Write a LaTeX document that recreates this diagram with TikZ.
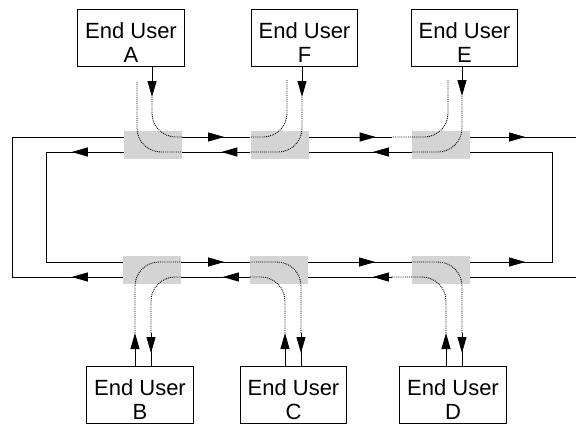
\documentclass[tikz,border=0pt]{standalone}
\usepackage{fontspec}
\setmainfont{Liberation Sans}
\usepackage{tikz}
\usetikzlibrary{arrows.meta, positioning, calc, decorations.markings}

\newcommand{\userlabel}[1]{\rule{0pt}{26pt}End User\\#1}

\begin{document}
\begin{tikzpicture}[
    x=1pt, y=-1pt,
    user/.style = {rectangle, draw, line width=0.8pt, minimum width=106.5pt, minimum height=57pt, inner sep=0pt, align=center, font=\fontsize{22}{24.5}\selectfont},
    switch/.style = {rectangle, fill=black!17, minimum width=58pt, minimum height=28pt, inner sep=0pt},
    fiber/.style = {line width=0.9pt},
    light/.style = {line width=0.9pt, densely dotted, rounded corners=24pt},
    feed/.style = {line width=0.9pt, -{Triangle[length=16pt, width=9pt]}},
    flow/.style = {postaction={decorate}, decoration={markings, mark=at position #1pt with {\arrow{Triangle[length=16pt, width=9pt]}}}}
]
    \useasboundingbox (0,0) rectangle (576,424);

    % End users
    \node (userA) [user] at (131,37.5) {\userlabel{A}};
    \node (userF) [user] at (304.5,37.5) {\userlabel{F}};
    \node (userE) [user] at (464.5,37.5) {\userlabel{E}};
    \node (userB) [user] at (140,394.5) {\userlabel{B}};
    \node (userC) [user] at (293.5,394.5) {\userlabel{C}};
    \node (userD) [user] at (453,394.5) {\userlabel{D}};

    % Switches
    \node (swA) [switch] at (153,144.5) {};
    \node (swF) [switch] at (279.5,144.5) {};
    \node (swE) [switch] at (441,144.5) {};
    \node (swB) [switch] at (152,269.5) {};
    \node (swC) [switch] at (279,269.5) {};
    \node (swD) [switch] at (441,269.5) {};

    % Ring levels and ports
    \coordinate (oT) at (0,137);
    \coordinate (iT) at (0,152);
    \coordinate (iB) at (0,262);
    \coordinate (oB) at (0,277);
    \coordinate (oL) at (12,0);
    \coordinate (iL) at (46,0);
    \coordinate (iR) at (552,0);
    \coordinate (rim) at (576,0);
    \coordinate (txA) at (152,97);
    \coordinate (rxA) at (137,82);
    \coordinate (txF) at (302,97);
    \coordinate (rxF) at (287,80);
    \coordinate (txE) at (462,96);
    \coordinate (rxE) at (448,80);
    \coordinate (txB) at (135,333);
    \coordinate (rxB) at (151,333);
    \coordinate (txC) at (285,333);
    \coordinate (rxC) at (301,333);
    \coordinate (txD) at (446,333);
    \coordinate (rxD) at (462,333);

    % Outer ring
    \draw [fiber, flow=51] (swB.west |- oB) -- (oL |- oB) -- (oL |- oT) -- (swA.west |- oT);
    \draw [fiber, flow=42] (swA.east |- oT) -- (swF.west |- oT);
    \draw [fiber, flow=67] (swF.east |- oT) -- ($(swE.west |- oT)+(-20,0)$);
    \draw [fiber, flow=55] (swE.east |- oT) -- (rim |- oT);
    \draw [fiber] (rim |- oB) -- (swD.east |- oB);
    \draw [fiber, flow=19] ($(swD.west |- oB)+(-20,0)$) -- (swC.east |- oB);
    \draw [fiber, flow=27] (swC.west |- oB) -- (swB.east |- oB);

    % Inner ring
    \draw [fiber, flow=52] (swA.west |- iT) -- (iL |- iT) -- (iL |- iB) -- (swB.west |- iB);
    \draw [fiber, flow=43] (swB.east |- iB) -- (swC.west |- iB);
    \draw [fiber, flow=67] (swC.east |- iB) -- (swD.west |- iB);
    \draw [fiber, flow=55] (swD.east |- iB) -- (iR |- iB) -- (iR |- iT) -- (swE.east |- iT);
    \draw [fiber, flow=39] (swE.west |- iT) -- (swF.east |- iT);
    \draw [fiber, flow=29] (swF.west |- iT) -- (swA.east |- iT);

    % Access links
    \draw [feed] (userA.south -| txA) -- (txA);
    \draw [feed] (userF.south -| txF) -- (txF);
    \draw [feed] (userE.south -| txE) -- (txE);
    \draw [feed] (userB.north -| txB) -- (txB);
    \draw [feed] (userC.north -| txC) -- (txC);
    \draw [feed] (userD.north -| txD) -- (txD);
    \draw [fiber, flow=20] (rxB) -- (userB.north -| rxB);
    \draw [fiber, flow=20] (rxC) -- (userC.north -| rxC);
    \draw [fiber, flow=20] (rxD) -- (userD.north -| rxD);

    % Lightpaths
    \draw [light] (txA) |- (swA.east |- oT);
    \draw [light] (rxA) |- (swA.east |- iT);
    \draw [light] (rxF) |- (swF.west |- oT);
    \draw [light] (txF) |- (swF.west |- iT);
    \draw [light] (rxE) |- ($(swE.west |- oT)+(-20,0)$);
    \draw [light] (txE) |- (swE.west |- iT);
    \draw [light] (txB) |- (swB.east |- iB);
    \draw [light] (rxB) |- (swB.east |- oB);
    \draw [light] (txC) |- (swC.west |- oB);
    \draw [light] (rxC) |- (swC.west |- iB);
    \draw [light] (txD) |- ($(swD.west |- oB)+(-20,0)$);
    \draw [light] (rxD) |- (swD.west |- iB);

\end{tikzpicture}
\end{document}
